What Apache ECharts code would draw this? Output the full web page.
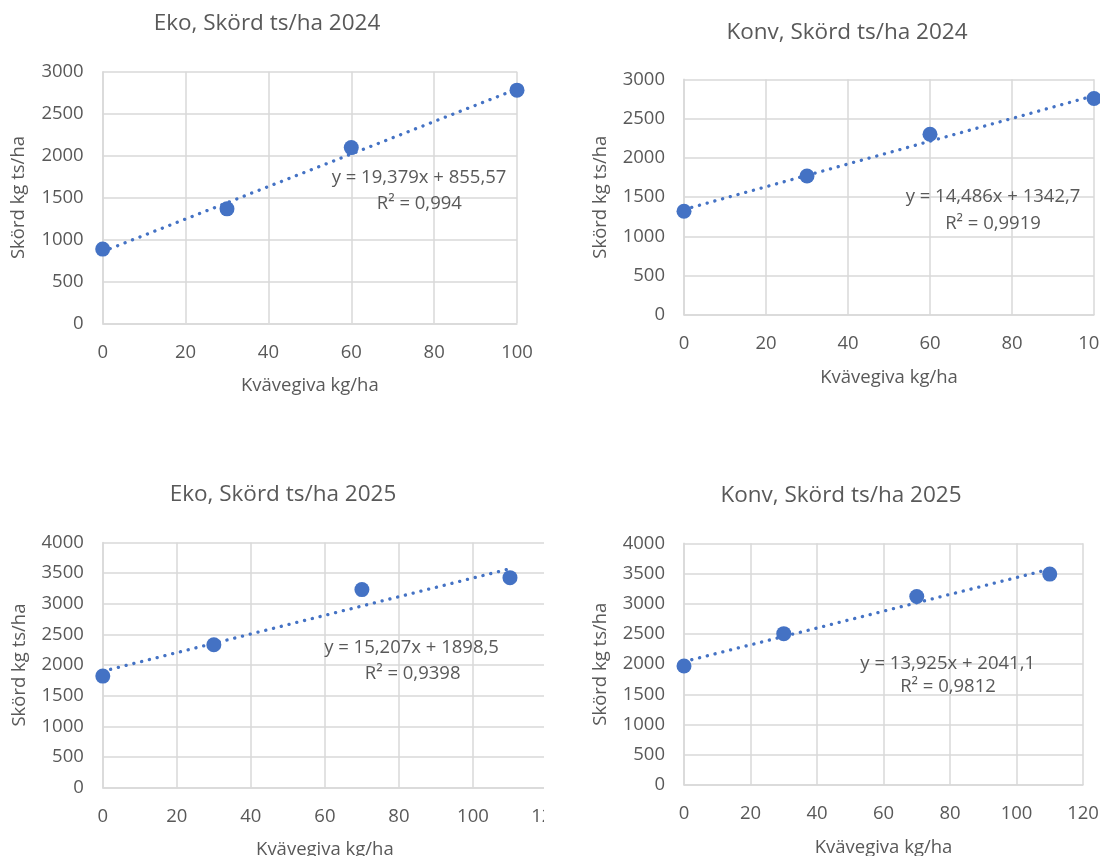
<!DOCTYPE html>
<html><head><meta charset="utf-8">
<script src="https://cdn.jsdelivr.net/npm/echarts@6/dist/echarts.min.js"></script>
<style>
html,body{margin:0;padding:0;background:#fff;overflow:hidden;width:1100px;height:856px;}
#left{position:absolute;left:0;top:0;width:544px;height:856px;}
#right{position:absolute;left:550px;top:0;width:550px;height:856px;}
</style></head><body>
<div id="left"></div><div id="right"></div>
<script>
// ---- data ----
const titles = ['Eko, Skörd ts/ha 2024', 'Konv, Skörd ts/ha 2024', 'Eko, Skörd ts/ha 2025', 'Konv, Skörd ts/ha 2025'];
const xName = 'Kvävegiva kg/ha';
const yName = 'Skörd kg ts/ha';

const xEko24 = [0, 30, 60, 100];
const yEko24 = [885, 1365, 2095, 2780];
const xKonv24 = [0, 30, 60, 100];
const yKonv24 = [1320, 1770, 2300, 2755];
const xEko25 = [0, 30, 70, 110];
const yEko25 = [1820, 2330, 3230, 3425];
const xKonv25 = [0, 30, 70, 110];
const yKonv25 = [1970, 2505, 3120, 3490];

// trendline end points, from the printed equations
const trendEko24 = [[0, 855.57], [100, 2793.47]];
const trendKonv24 = [[0, 1342.7], [100, 2791.3]];
const trendEko25 = [[0, 1898.5], [110, 3571.27]];
const trendKonv25 = [[0, 2041.1], [110, 3572.85]];

const eqEko24 = ['y = 19,379x + 855,57', 'R² = 0,994'];
const eqKonv24 = ['y = 14,486x + 1342,7', 'R² = 0,9919'];
const eqEko25 = ['y = 15,207x + 1898,5', 'R² = 0,9398'];
const eqKonv25 = ['y = 13,925x + 2041,1', 'R² = 0,9812'];

const xMax = [100, 100, 120, 120];
const yMax = [3000, 3000, 4000, 4000];
const xTickStep = 20, yTickStep = 500;

// ---- styling ----
const FONT = '"Open Sans", "Noto Sans", sans-serif';
const TXT = '#595959';
const GRID = '#d9d9d9';
const BLUE = '#4472C4';

function zip(xs, ys) { return xs.map((x, i) => [x, ys[i]]); }
const plain = v => String(v);

function panel(idx, grid, pts, trend) {
  return {
    grid: Object.assign({ containLabel: false, outerBoundsMode: 'none' }, grid),
    xAxis: {
      type: 'value', gridIndex: idx, min: 0, max: xMax[grid.k], interval: xTickStep,
      name: xName, nameLocation: 'middle', nameGap: 53,
      nameTextStyle: { color: TXT, fontSize: 18.5, fontFamily: FONT },
      axisLine: { show: true, lineStyle: { color: GRID, width: 1.5 } },
      axisTick: { show: false },
      axisLabel: { color: TXT, fontSize: 18.5, fontFamily: FONT, margin: 19.5, showMaxLabel: true, formatter: plain, hideOverlap: false },
      splitLine: { show: true, lineStyle: { color: GRID, width: 1.5 } }
    },
    yAxis: {
      type: 'value', gridIndex: idx, min: 0, max: yMax[grid.k], interval: yTickStep,
      name: yName, nameLocation: 'middle', nameGap: 74, nameRotate: 90,
      nameTextStyle: { color: TXT, fontSize: 18.5, fontFamily: FONT },
      axisLine: { show: true, lineStyle: { color: GRID, width: 1.5 } },
      axisTick: { show: false },
      axisLabel: { color: TXT, fontSize: 18.5, fontFamily: FONT, margin: 19, formatter: plain },
      splitLine: { show: true, lineStyle: { color: GRID, width: 1.5 } }
    },
    series: [
      {
        type: 'line', xAxisIndex: idx, yAxisIndex: idx, data: trend, symbol: 'none',
        lineStyle: { color: BLUE, width: 3.3, type: [0.1, 7.9], cap: 'round' }, z: 2, silent: true
      },
      {
        type: 'scatter', xAxisIndex: idx, yAxisIndex: idx, data: pts, symbolSize: 15,
        itemStyle: { color: BLUE, opacity: 1 }, z: 3
      }
    ]
  };
}

function txt(x, y, text, size) {
  return { type: 'text', x: x, y: y, z: 10,
    style: { text: text, fill: TXT, fontSize: size, fontFamily: FONT, align: 'center', verticalAlign: 'middle' } };
}

function build(panels, graphics) {
  const opt = { animation: false, backgroundColor: '#fff', grid: [], xAxis: [], yAxis: [], series: [], graphic: graphics };
  panels.forEach(p => {
    const g = Object.assign({}, p.grid); delete g.k;
    opt.grid.push(g); opt.xAxis.push(p.xAxis); opt.yAxis.push(p.yAxis);
    opt.series.push(...p.series);
  });
  return opt;
}

// left column
const L = echarts.init(document.getElementById('left'), null, { renderer: 'canvas' });
const p1 = panel(0, { k: 0, left: 102.7, right: 27, top: 71.7, height: 251.6 }, zip(xEko24, yEko24), trendEko24);
const p3 = panel(1, { k: 2, left: 102.8, right: -3, top: 542.4, height: 245.3 }, zip(xEko25, yEko25), trendEko25);
L.setOption(build([p1, p3], [
  txt(267, 23.5, titles[0], 22.5),
  txt(419, 177.3, eqEko24[0], 18.5),
  txt(419.3, 204, eqEko24[1], 18.5),
  txt(283, 494.5, titles[2], 22.5),
  txt(411.5, 647.4, eqEko25[0], 18.5),
  txt(412.6, 673.6, eqEko25[1], 18.5)
]));

// right column
const R = echarts.init(document.getElementById('right'), null, { renderer: 'canvas' });
const p2 = panel(0, { k: 1, left: 134, right: 6, top: 79.3, height: 235.7 }, zip(xKonv24, yKonv24), trendKonv24);
const p4 = panel(1, { k: 3, left: 134, right: 17, top: 543.3, height: 241.7 }, zip(xKonv25, yKonv25), trendKonv25);
R.setOption(build([p2, p4], [
  txt(297, 32.5, titles[1], 22.5),
  txt(443, 196.7, eqKonv24[0], 18.5),
  txt(443, 223.3, eqKonv24[1], 18.5),
  txt(291, 495.5, titles[3], 22.5),
  txt(397.7, 663.3, eqKonv25[0], 18.5),
  txt(398, 687, eqKonv25[1], 18.5)
]));
</script>
</body></html>
